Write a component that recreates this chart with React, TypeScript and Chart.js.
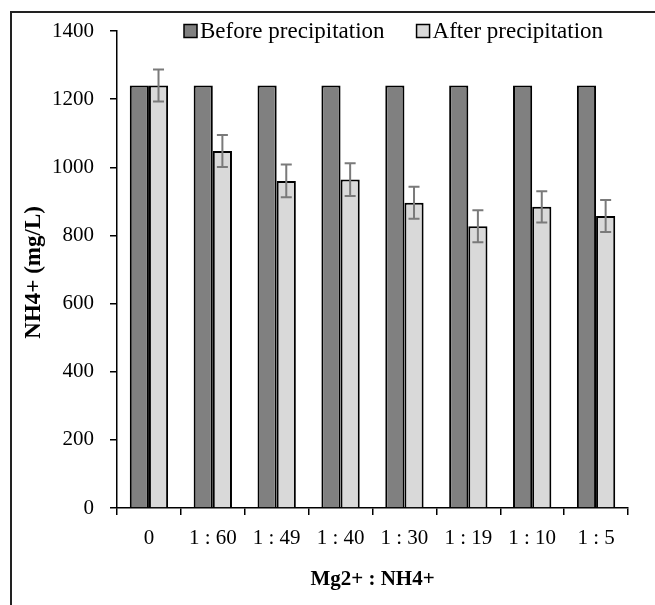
import React, { useEffect, useRef } from "react";
import { Chart, registerables } from "chart.js";

Chart.register(...registerables);

const categories = ["0", "1 : 60", "1 : 49", "1 : 40", "1 : 30", "1 : 19", "1 : 10", "1 : 5"];
const beforeValues = [1240, 1240, 1240, 1240, 1240, 1240, 1240, 1240];
const afterValues = [1240, 1048, 960, 964, 896, 827, 884, 857];
const afterErrors = [47, 47, 48, 48, 47, 47, 46, 47];
const seriesLabels = ["Before precipitation", "After precipitation"];
const yTicks = [0, 200, 400, 600, 800, 1000, 1200, 1400];

const FONT = "'Liberation Serif', 'Times New Roman', serif";

const errorBarPlugin = {
  id: "errorBars",
  afterDatasetsDraw(chart: any) {
    const ctx = chart.ctx;
    const meta = chart.getDatasetMeta(1);
    const yScale = chart.scales.y;
    ctx.save();
    ctx.strokeStyle = "#7a7a7a";
    ctx.lineWidth = 2;
    meta.data.forEach((bar: any, i: number) => {
      const v = afterValues[i];
      const e = afterErrors[i];
      const x = bar.x;
      const yTop = yScale.getPixelForValue(v + e);
      const yBot = yScale.getPixelForValue(v - e);
      const cap = 5.5;
      ctx.beginPath();
      ctx.moveTo(x, yTop);
      ctx.lineTo(x, yBot);
      ctx.moveTo(x - cap, yTop);
      ctx.lineTo(x + cap, yTop);
      ctx.moveTo(x - cap, yBot);
      ctx.lineTo(x + cap, yBot);
      ctx.stroke();
    });
    ctx.restore();
  },
};

const legendPlugin = {
  id: "customLegend",
  afterDraw(chart: any) {
    const ctx = chart.ctx;
    const area = chart.chartArea;
    ctx.save();
    ctx.font = `23px ${FONT}`;
    ctx.textBaseline = "middle";
    ctx.textAlign = "left";
    const cy = area.top;
    let x = 184;
    chart.data.datasets.forEach((ds: any) => {
      const box = 13;
      ctx.fillStyle = ds.backgroundColor;
      ctx.fillRect(x, cy - box / 2, box, box);
      ctx.strokeStyle = "#000";
      ctx.lineWidth = 1.5;
      ctx.strokeRect(x, cy - box / 2, box, box);
      ctx.fillStyle = "#000";
      ctx.fillText(ds.label, x + box + 3, cy + 1);
      const w = ctx.measureText(ds.label).width;
      x += box + 3 + w + 32;
    });
    ctx.restore();
  },
};

export default function App() {
  const canvasRef = useRef<HTMLCanvasElement | null>(null);

  useEffect(() => {
    if (!canvasRef.current) return;
    const chart = new Chart(canvasRef.current, {
      type: "bar",
      data: {
        labels: categories,
        datasets: [
          {
            label: seriesLabels[0],
            data: beforeValues,
            backgroundColor: "#808080",
            borderColor: "#000",
            borderWidth: 2,
            categoryPercentage: 0.6,
            barPercentage: 1.0,
          },
          {
            label: seriesLabels[1],
            data: afterValues,
            backgroundColor: "#d9d9d9",
            borderColor: "#000",
            borderWidth: 2,
            categoryPercentage: 0.6,
            barPercentage: 1.0,
          },
        ],
      },
      options: {
        animation: false,
        responsive: false,
        maintainAspectRatio: false,
        layout: { padding: { left: 0, right: 27, top: 31, bottom: 0 } },
        plugins: {
          legend: { display: false },
          tooltip: { enabled: false },
        },
        scales: {
          x: {
            afterFit: (s: any) => {
              s.height = 97;
            },
            grid: {
              display: true,
              drawOnChartArea: false,
              drawTicks: true,
              tickLength: 7,
              color: "#000",
              lineWidth: 1.5,
              offset: true,
            },
            border: { display: true, color: "#000", width: 1.5 },
            ticks: {
              color: "#000",
              font: { family: FONT, size: 21 },
              padding: 11,
              maxRotation: 0,
              autoSkip: false,
            },
            title: {
              display: true,
              text: "Mg2+ : NH4+",
              color: "#000",
              font: { family: FONT, size: 21, weight: "bold" },
              padding: { top: 0, bottom: 13 },
            },
          },
          y: {
            min: 0,
            max: 1400,
            afterFit: (s: any) => {
              s.width = 117;
            },
            afterBuildTicks: (s: any) => {
              s.ticks = yTicks.map((v) => ({ value: v }));
            },
            grid: {
              display: true,
              drawOnChartArea: false,
              drawTicks: true,
              tickLength: 7,
              color: "#000",
              lineWidth: 1.5,
            },
            border: { display: true, color: "#000", width: 1.5 },
            ticks: {
              color: "#000",
              font: { family: FONT, size: 21 },
              padding: 16,
              callback: (v: any) => String(v),
            },
            title: {
              display: true,
              text: "NH4+ (mg/L) ",
              color: "#000",
              font: { family: FONT, size: 23, weight: "bold" },
              padding: { top: 20, bottom: 0 },
            },
          },
        },
      },
      plugins: [errorBarPlugin, legendPlugin],
    });
    return () => chart.destroy();
  }, []);

  return (
    <div style={{ position: "fixed", left: 0, top: 0, width: 655, height: 605, background: "#fff", overflow: "hidden" }}>
      <div
        style={{
          position: "absolute",
          left: 10,
          top: 11,
          width: 700,
          height: 700,
          borderLeft: "2px solid #222",
          borderTop: "2px solid #222",
        }}
      />
      <canvas ref={canvasRef} width={655} height={605} style={{ position: "absolute", left: 0, top: 0 }} />
    </div>
  );
}
